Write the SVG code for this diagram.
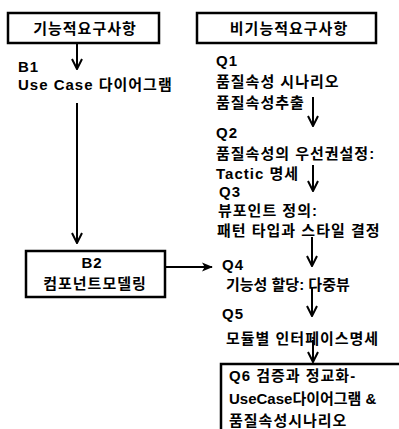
<svg xmlns="http://www.w3.org/2000/svg" width="399" height="429" viewBox="0 0 399 429">
<defs>
<style>
.box{fill:#fff;stroke:#000;stroke-width:2.5}
.t{font-family:"Liberation Sans","Noto Sans CJK KR",sans-serif;font-size:15px;font-weight:bold;fill:#000;letter-spacing:1px}
.n{letter-spacing:0}
.c{text-anchor:middle}
.ln{stroke:#000;stroke-width:2;fill:none}
</style>
<marker id="v" viewBox="0 0 12 12" refX="11" refY="6" markerWidth="12" markerHeight="12" markerUnits="userSpaceOnUse" orient="auto">
<path d="M1,1 L11,6 L1,11" fill="none" stroke="#000" stroke-width="2"/>
</marker>
<marker id="f" viewBox="0 0 12 12" refX="11" refY="6" markerWidth="11" markerHeight="11" markerUnits="userSpaceOnUse" orient="auto">
<path d="M0,1 L12,6 L0,11 L3,6 Z" fill="#000"/>
</marker>
</defs>
<rect width="399" height="429" fill="#fff"/>
<g id="connectors">
<line class="ln" x1="77" y1="43" x2="77" y2="69" marker-end="url(#v)"/>
<line class="ln" x1="77" y1="103" x2="77" y2="243" marker-end="url(#v)"/>
<line class="ln" x1="165" y1="267" x2="212" y2="267" marker-end="url(#f)"/>
<line class="ln" x1="313" y1="97" x2="313" y2="126" marker-end="url(#v)"/>
<line class="ln" x1="313" y1="165" x2="313" y2="191" marker-end="url(#v)"/>
<line class="ln" x1="312" y1="237" x2="312" y2="266" marker-end="url(#v)"/>
<line class="ln" x1="312" y1="287" x2="312" y2="316" marker-end="url(#v)"/>
<line class="ln" x1="313" y1="340" x2="313" y2="362" marker-end="url(#v)"/>
</g>
<g id="functional">
<rect class="box" x="8" y="13" width="151" height="30"/>
<text class="t c" x="85" y="34">기능적요구사항</text>
</g>
<g id="nonfunctional">
<rect class="box" x="197" y="13" width="179" height="30"/>
<text class="t c" x="289" y="34">비기능적요구사항</text>
</g>
<g id="b1">
<text class="t" x="18" y="72">B1</text>
<text class="t" x="18" y="90">Use Case 다이어그램</text>
</g>
<g id="b2">
<rect class="box" x="26" y="251" width="139" height="46"/>
<text class="t c" x="92" y="268">B2</text>
<text class="t c" x="95" y="289">컴포넌트모델링</text>
</g>
<g id="q1">
<text class="t" x="216" y="66">Q1</text>
<text class="t" x="216" y="87">품질속성 시나리오</text>
<text class="t" x="216" y="108">품질속성추출</text>
</g>
<g id="q2">
<text class="t" x="216" y="138">Q2</text>
<text class="t" x="216" y="159">품질속성의 우선권설정:</text>
<text class="t" x="216" y="179">Tactic 명세</text>
</g>
<g id="q3">
<text class="t" x="219" y="197">Q3</text>
<text class="t" x="218" y="216">뷰포인트 정의:</text>
<text class="t" x="217" y="236">패턴 타입과 스타일 결정</text>
</g>
<g id="q4">
<text class="t" x="222" y="270">Q4</text>
<text class="t n" x="226" y="290">기능성 할당: 다중뷰</text>
</g>
<g id="q5">
<text class="t" x="222" y="319">Q5</text>
<text class="t" x="226" y="344">모듈별 인터페이스명세</text>
</g>
<g id="q6">
<rect class="box" x="221" y="364" width="200" height="80"/>
<text class="t" x="229" y="381">Q6 검증과 정교화-</text>
<text class="t n" x="229" y="404">UseCase다이어그램 &amp;</text>
<text class="t" x="229" y="426">품질속성시나리오</text>
</g>
</svg>
